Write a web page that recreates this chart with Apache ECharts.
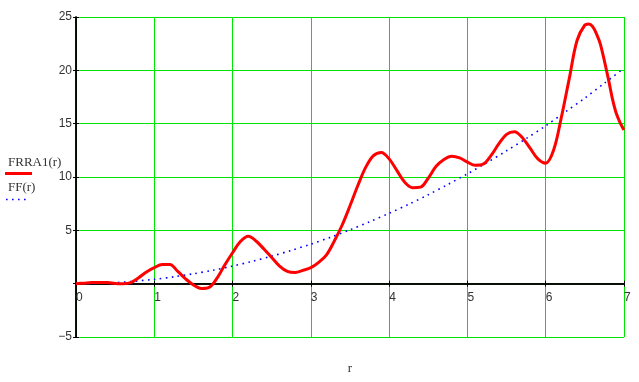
<!DOCTYPE html>
<html>
<head>
<meta charset="utf-8">
<script src="https://cdn.jsdelivr.net/npm/echarts@6/dist/echarts.min.js"></script>
<style>
html,body{margin:0;padding:0;background:#fff;}
#chart{width:639px;height:382px;}
</style>
</head>
<body>
<div id="chart"></div>
<script>
// ---- data ----
const rRed = [0,0.1,0.2,0.3,0.4,0.5,0.6,0.7,0.8,0.9,1.0,1.1,1.2,1.3,1.4,1.5,1.6,1.7,1.8,1.9,2.0,2.1,2.2,2.3,2.4,2.5,2.6,2.7,2.8,2.9,3.0,3.1,3.2,3.3,3.4,3.5,3.6,3.7,3.8,3.9,4.0,4.1,4.2,4.3,4.4,4.5,4.6,4.7,4.8,4.9,5.0,5.1,5.2,5.3,5.4,5.5,5.6,5.7,5.8,5.9,6.0,6.1,6.2,6.3,6.4,6.5,6.55,6.6,6.65,6.7,6.8,6.85,6.9,6.95,7.0];
const frra1 = [0,0.05,0.1,0.1,0.1,0.02,0.0,0.1,0.55,1.1,1.5,1.8,1.8,1.15,0.45,-0.12,-0.45,-0.35,0.5,1.75,2.9,3.95,4.45,4.0,3.25,2.45,1.65,1.15,1.05,1.25,1.5,2.0,2.7,4.0,5.5,7.3,9.2,10.9,12.0,12.3,11.7,10.6,9.5,9.0,9.05,9.9,11.0,11.65,11.95,11.8,11.4,11.1,11.2,12.0,13.1,14.0,14.25,13.7,12.7,11.7,11.3,12.5,15.6,19.2,22.8,24.25,24.35,24.1,23.4,22.4,19.2,17.4,16.0,15.1,14.4];
const rBlue = [0,0.25,0.5,0.75,1,1.25,1.5,1.75,2,2.25,2.5,2.75,3,3.25,3.5,3.75,4,4.25,4.5,4.75,5,5.25,5.5,5.75,6,6.25,6.5,6.75,7];
const ff = [0,0.03,0.1,0.23,0.41,0.64,0.93,1.26,1.65,2.09,2.58,3.12,3.71,4.35,5.05,5.8,6.6,7.44,8.34,9.3,10.3,11.35,12.46,13.6,14.8,16.1,17.4,18.8,20.2];
const xTicks = [0,1,2,3,4,5,6,7];
const yTicks = [-5,0,5,10,15,20,25];
const seriesNames = ['FRRA1(r)','FF(r)'];
const xName = 'r';

const chart = echarts.init(document.getElementById('chart'), null, {renderer:'canvas'});
const gridGreen = '#00e400';
const txt = '#333333';

const gridTop = 17, gridBottomPx = 337;
const yMin = yTicks[0], yMax = yTicks[yTicks.length-1];
// place the x axis on the y=0 line by offsetting it up from the grid bottom
const xAxisOffset = -(0 - yMin) / (yMax - yMin) * (gridBottomPx - gridTop);

const xBase = {
  type:'value', min:xTicks[0], max:xTicks[xTicks.length-1], interval:1, position:'bottom',
  offset:xAxisOffset,
  axisLine:{show:true, onZero:false, lineStyle:{color:'#000', width:1.5}}
};
const yBase = {
  type:'value', min:yMin, max:yMax, interval:5, position:'left',
  axisLine:{show:true, onZero:false, lineStyle:{color:'#000', width:1.5}}
};

chart.setOption({
  animation:false,
  backgroundColor:'#fff',
  grid:{left:76, right:15, top:gridTop, bottom:382-gridBottomPx, containLabel:false, outerBoundsMode:'none'},
  xAxis:[
    Object.assign({}, xBase, {
      name:xName, nameLocation:'middle', nameGap:78,
      nameTextStyle:{fontFamily:'Liberation Serif', fontSize:13, color:txt},
      axisTick:{show:true, length:3, lineStyle:{color:'#000'}},
      axisLabel:{show:true, align:'left', margin:8, fontFamily:'Liberation Sans', fontSize:12, color:txt},
      splitLine:{show:true, lineStyle:{color:gridGreen, width:1}}
    }),
    Object.assign({}, xBase, {
      axisTick:{show:true, inside:true, length:3, lineStyle:{color:'#000'}},
      axisLabel:{show:false}, splitLine:{show:false}
    })
  ],
  yAxis:[
    Object.assign({}, yBase, {
      axisTick:{show:true, length:3, lineStyle:{color:'#000'}},
      axisLabel:{show:true, margin:4, fontFamily:'Liberation Sans', fontSize:12, color:txt,
        formatter:function(v){ return v===0 ? '' : (v<0 ? '\u2212'+Math.abs(v) : String(v)); }},
      splitLine:{show:true, lineStyle:{color:gridGreen, width:1}}
    }),
    Object.assign({}, yBase, {
      axisTick:{show:true, inside:true, length:3, lineStyle:{color:'#000'}},
      axisLabel:{show:false}, splitLine:{show:false}
    })
  ],
  series:[
    {
      name:seriesNames[1], type:'line', xAxisIndex:0, yAxisIndex:0,
      data: rBlue.map((r,i)=>[r, ff[i]]),
      showSymbol:false, smooth:0.3,
      lineStyle:{color:'#0000ff', width:1.6, type:[1.6,4.4]}, z:3
    },
    {
      name:seriesNames[0], type:'line', xAxisIndex:0, yAxisIndex:0,
      data: rRed.map((r,i)=>[r, frra1[i]]),
      showSymbol:false, smooth:0.35,
      lineStyle:{color:'#ff0000', width:3}, z:4
    }
  ],
  graphic:[
    {type:'text', left:8, top:156, style:{text:seriesNames[0], fontFamily:'Liberation Serif', fontSize:13, fill:txt}},
    {type:'line', shape:{x1:5, y1:173.5, x2:32, y2:173.5}, style:{stroke:'#ff0000', lineWidth:3}},
    {type:'text', left:8, top:181, style:{text:seriesNames[1], fontFamily:'Liberation Serif', fontSize:13, fill:txt}},
    {type:'line', shape:{x1:6, y1:199.5, x2:27, y2:199.5}, style:{stroke:'#0000ff', lineWidth:1.6, lineDash:[1.6,4.4]}}
  ]
});
</script>
</body>
</html>
